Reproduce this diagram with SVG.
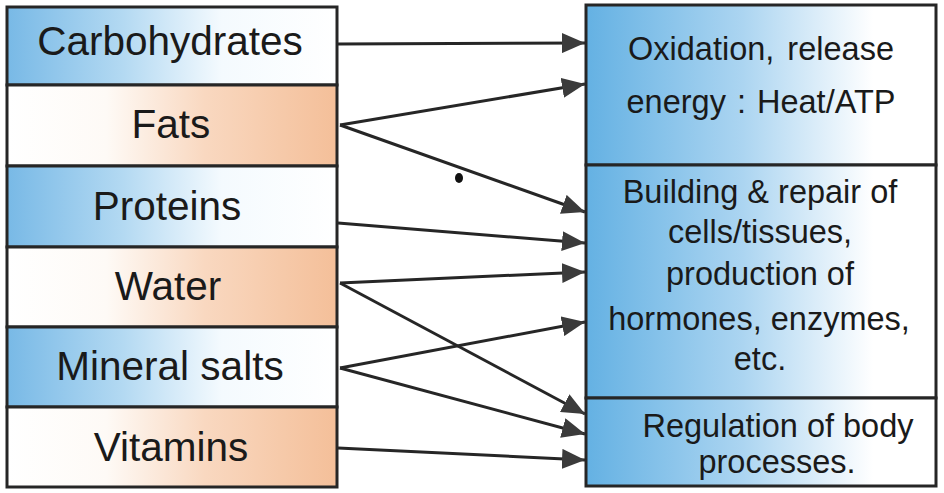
<svg xmlns="http://www.w3.org/2000/svg" width="944" height="493" viewBox="0 0 944 493">
<defs>
<linearGradient id="gBlue" x1="0" y1="0" x2="1" y2="0">
<stop offset="0" stop-color="#78b9e6"/>
<stop offset="0.35" stop-color="#b3d9f2"/>
<stop offset="0.65" stop-color="#f4fafe"/>
<stop offset="1" stop-color="#ffffff"/>
</linearGradient>
<linearGradient id="gOrange" x1="0" y1="0" x2="1" y2="0">
<stop offset="0" stop-color="#ffffff"/>
<stop offset="0.3" stop-color="#fefaf6"/>
<stop offset="0.6" stop-color="#f9d8c0"/>
<stop offset="1" stop-color="#f4bf99"/>
</linearGradient>
<linearGradient id="gRight" x1="0" y1="0" x2="1" y2="0">
<stop offset="0" stop-color="#64b1e3"/>
<stop offset="0.45" stop-color="#acd5f1"/>
<stop offset="0.82" stop-color="#ffffff"/>
<stop offset="1" stop-color="#ffffff"/>
</linearGradient>
<marker id="arr" markerUnits="userSpaceOnUse" markerWidth="24" markerHeight="20" refX="23" refY="10" orient="auto">
<path d="M0,0 L23,10 L0,20 z" fill="#3b3b3b"/>
</marker>
<style>
.box{stroke:#262626;stroke-width:3}
.lt{font-family:"Liberation Sans",Arial,sans-serif;font-size:40.5px;fill:#1a1a1a;text-anchor:middle}
.rt{font-family:"Liberation Sans",Arial,sans-serif;font-size:32.5px;fill:#1a1a1a;text-anchor:middle}
.con{stroke:#262626;stroke-width:3;fill:none;marker-end:url(#arr)}
</style>
</defs>
<rect width="944" height="493" fill="#ffffff"/>

<g id="carbohydrates">
<rect class="box" x="7" y="7" width="330" height="78" fill="url(#gBlue)"/>
<text class="lt" x="170" y="55">Carbohydrates</text>
</g>
<g id="fats">
<rect class="box" x="7" y="85" width="330" height="81" fill="url(#gOrange)"/>
<text class="lt" x="171" y="138">Fats</text>
</g>
<g id="proteins">
<rect class="box" x="7" y="166" width="330" height="81" fill="url(#gBlue)"/>
<text class="lt" x="167" y="220">Proteins</text>
</g>
<g id="water">
<rect class="box" x="7" y="247" width="330" height="80" fill="url(#gOrange)"/>
<text class="lt" x="168" y="300">Water</text>
</g>
<g id="mineral-salts">
<rect class="box" x="7" y="327" width="330" height="80" fill="url(#gBlue)"/>
<text class="lt" x="170" y="380">Mineral salts</text>
</g>
<g id="vitamins">
<rect class="box" x="7" y="407" width="330" height="80" fill="url(#gOrange)"/>
<text class="lt" x="171" y="461">Vitamins</text>
</g>

<g id="oxidation">
<rect class="box" x="586" y="5" width="350" height="160" fill="url(#gRight)"/>
<text class="rt" x="761" y="60" word-spacing="4">Oxidation, release</text>
<text class="rt" x="761" y="113" word-spacing="2">energy : Heat/ATP</text>
</g>
<g id="building">
<rect class="box" x="586" y="165" width="350" height="233" fill="url(#gRight)"/>
<text class="rt" x="760" y="203">Building &amp; repair of</text>
<text class="rt" x="760" y="243">cells/tissues,</text>
<text class="rt" x="760" y="285">production of</text>
<text class="rt" x="759" y="330">hormones, enzymes,</text>
<text class="rt" x="760" y="370">etc.</text>
</g>
<g id="regulation">
<rect class="box" x="586" y="398" width="350" height="88" fill="url(#gRight)"/>
<text class="rt" x="778" y="437">Regulation of body</text>
<text class="rt" x="777" y="473">processes.</text>
</g>

<g id="connectors">
<line class="con" x1="338" y1="44" x2="585" y2="43"/>
<line class="con" x1="340" y1="125" x2="585" y2="84"/>
<line class="con" x1="340" y1="125" x2="585" y2="212"/>
<line class="con" x1="338" y1="223" x2="585" y2="243"/>
<line class="con" x1="340" y1="283" x2="585" y2="272"/>
<line class="con" x1="340" y1="283" x2="585" y2="414"/>
<line class="con" x1="340" y1="368" x2="585" y2="322"/>
<line class="con" x1="340" y1="368" x2="585" y2="434"/>
<line class="con" x1="338" y1="448" x2="585" y2="460"/>
</g>
<ellipse cx="459" cy="178" rx="4" ry="5" fill="#111"/>
</svg>
